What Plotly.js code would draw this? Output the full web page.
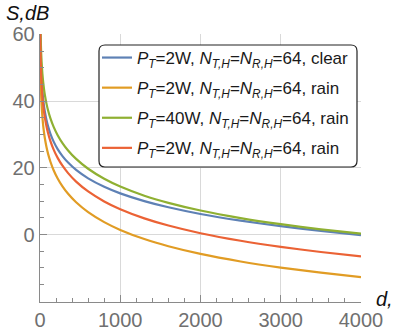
<!DOCTYPE html>
<html>
<head>
<meta charset="utf-8">
<script src="https://cdn.plot.ly/plotly-3.0.1.min.js"></script>
<style>html,body{margin:0;padding:0;background:#fff;}#chart{width:394px;height:333px;}</style>
</head>
<body>
<div id="chart"></div>
<script>
// distance, m
const distance = [1,2,3,5,8,10,15,20,30,40,50,60,80,100,130,170,220,280,350,450,600,800,1000,1300,1600,2000,2500,3000,3500,4000];
// S, dB
const clear2W = [72.5,66.48,62.96,58.52,54.44,52.50,48.98,46.48,42.96,40.45,38.51,36.93,34.43,32.49,30.20,27.86,25.62,23.52,21.57,19.37,16.85,14.32,12.35,10.03,8.18,6.18,4.17,2.51,1.10,-0.14];
const rain2W = [64.9,58.88,55.34,50.89,46.78,44.83,41.28,38.74,35.16,32.59,30.59,28.94,26.32,24.26,21.82,19.27,16.79,14.43,12.21,9.67,6.72,3.73,1.40,-1.34,-3.49,-5.79,-8.06,-9.89,-11.42,-12.74];
const rain40W = [77.9,71.88,68.34,63.89,59.78,57.83,54.28,51.74,48.16,45.59,43.59,41.94,39.32,37.26,34.82,32.27,29.79,27.43,25.21,22.67,19.72,16.73,14.40,11.66,9.51,7.21,4.94,3.11,1.58,0.26];
const rain2Wb = [71.1,65.08,61.54,57.09,52.98,51.03,47.48,44.94,41.36,38.79,36.79,35.14,32.52,30.46,28.02,25.47,22.99,20.63,18.41,15.87,12.92,9.93,7.60,4.86,2.71,0.41,-1.86,-3.69,-5.22,-6.54];
const seriesNames = [
  '<i>P</i><sub><i>T</i></sub>=2W, <i>N</i><sub><i>T,H</i></sub>=<i>N</i><sub><i>R,H</i></sub>=64, clear',
  '<i>P</i><sub><i>T</i></sub>=2W, <i>N</i><sub><i>T,H</i></sub>=<i>N</i><sub><i>R,H</i></sub>=64, rain',
  '<i>P</i><sub><i>T</i></sub>=40W, <i>N</i><sub><i>T,H</i></sub>=<i>N</i><sub><i>R,H</i></sub>=64, rain',
  '<i>P</i><sub><i>T</i></sub>=2W, <i>N</i><sub><i>T,H</i></sub>=<i>N</i><sub><i>R,H</i></sub>=64, rain'
];
const xTicks = [0,1000,2000,3000,4000];
const yTicks = [0,20,40,60];

const colors = ['#5E81B5','#E19C24','#8FB032','#EB6235'];
const ys = [clear2W, rain2W, rain40W, rain2Wb];
const traces = ys.map((y,i)=>({
  x: distance, y: y, type:'scatter', mode:'lines', name: seriesNames[i],
  legendgroup: 'g'+i,
  line:{color:colors[i], width:2.2, shape:'spline', smoothing:0.6}
}));

const W=394,H=333, L=40, R=33, T=34, B=31;
const pw = W-L-R, ph = H-T-B;
const px = v => (v-L)/pw;
const py = v => (H-B-v)/ph;
function roundRect(x0,y0,x1,y1,r){
  const a=px(x0),b=px(x1),c=py(y0),d=py(y1);
  const rx=r/pw, ry=r/ph;
  return `M${a+rx},${c} L${b-rx},${c} Q${b},${c} ${b},${c-ry} L${b},${d+ry} Q${b},${d} ${b-rx},${d} L${a+rx},${d} Q${a},${d} ${a},${d+ry} L${a},${c-ry} Q${a},${c} ${a+rx},${c} Z`;
}

const fontFam = 'Liberation Sans, Arial, sans-serif';
const layout = {
  width:W, height:H,
  margin:{l:L,r:R,t:T,b:B},
  paper_bgcolor:'#fff', plot_bgcolor:'#fff',
  showlegend:true,
  font:{family:fontFam},
  xaxis:{range:[0,4000], tickvals:xTicks, ticks:'inside', ticklen:7, tickcolor:'#8a8a8a',
    showline:true, linecolor:'#8a8a8a', linewidth:1.3, showgrid:true, gridcolor:'#d9d9d9', gridwidth:1,
    zeroline:false, tickfont:{size:20,color:'#707070',family:fontFam},
    minor:{dtick:200, ticks:'inside', ticklen:4, tickcolor:'#8a8a8a', showgrid:false}},
  yaxis:{range:[-20.2,60.1], tickvals:yTicks, ticks:'inside', ticklen:7, tickcolor:'#8a8a8a',
    showline:true, linecolor:'#8a8a8a', linewidth:1.3, showgrid:true, gridcolor:'#d9d9d9', gridwidth:1,
    zeroline:false, tickfont:{size:20,color:'#707070',family:fontFam},
    minor:{dtick:5, ticks:'inside', ticklen:4, tickcolor:'#8a8a8a', showgrid:false}},
  legend:{x:px(97), y:py(40), xanchor:'left', yanchor:'top', bgcolor:'rgba(0,0,0,0)', borderwidth:0,
    font:{size:17,color:'#1a1a1a',family:fontFam}, tracegroupgap:5},
  shapes:[{type:'path', xref:'paper', yref:'paper', path:roundRect(99,45,357,167,6),
    line:{color:'#222',width:1.2}, fillcolor:'#fff', layer:'above'}],
  annotations:[
    {text:'<i>S,dB</i>', xref:'paper', yref:'paper', x:px(4), y:py(13), xanchor:'left', yanchor:'middle', showarrow:false, font:{size:20,color:'#111',family:fontFam}},
    {text:'<i>d,</i>', xref:'paper', yref:'paper', x:px(374), y:py(299), xanchor:'left', yanchor:'middle', showarrow:false, font:{size:20,color:'#111',family:fontFam}}
  ]
};
Plotly.newPlot('chart', traces, layout, {displayModeBar:false, staticPlot:true});
</script>
</body>
</html>
